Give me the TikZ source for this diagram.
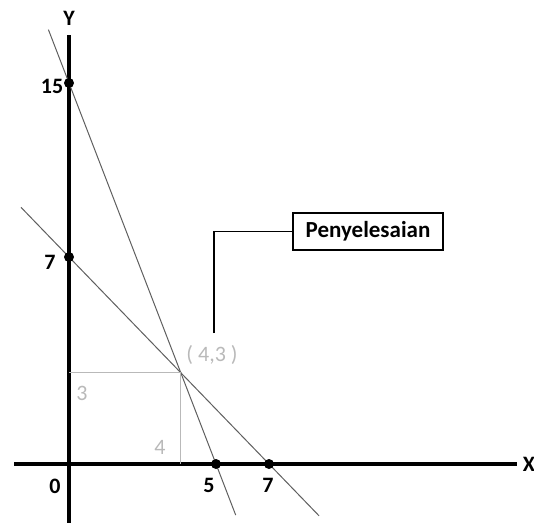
\documentclass[tikz,border=0pt]{standalone}
\usepackage{fontspec}
\setmainfont{Carlito}
\usepackage{tikz}
\usetikzlibrary{calc,positioning}
\definecolor{linegray}{RGB}{95,95,95}
\definecolor{helpgray}{RGB}{185,185,185}
\tikzset{%
	axis/.style    = {line width=4pt, black},
	graph/.style   = {line width=1pt, linegray},
	helper/.style  = {line width=1pt, helpgray},
	dot/.style     = {circle, fill=black, inner sep=0pt, minimum size=10pt},
	lbl/.style     = {font=\fontsize{22}{26}\selectfont\bfseries, inner sep=1pt},
	glbl/.style    = {font=\fontsize{22}{26}\selectfont, text=helpgray, inner sep=1pt},
	callout/.style = {draw, line width=1.3pt, font=\fontsize{23}{27}\selectfont\bfseries, minimum width=150pt, minimum height=37pt, inner sep=2pt},
}

\begin{document}
\begin{tikzpicture}[x=1pt,y=-1pt]
	\useasboundingbox (0,0) rectangle (534,523);
	% points on the axes
	\coordinate (O) at (69,464);
	\coordinate (Y15) at (69,83);
	\coordinate (Y7) at (69,257);
	\coordinate (X5) at (216,464);
	\coordinate (X7) at (269,464);
	\coordinate (P) at (180,372);
	
	\draw[axis] (14,464) -- (517,464);  % x Axis
	\draw[axis] (69,35) -- (69,523);  % y Axis
	\node[lbl] (ylab) at (69,18) {Y};
	\node[lbl] (xlab) at (529,464) {X};
	
	% the two lines
	\draw[graph] ($(Y15)!-0.14!(X5)$) -- ($(X5)!-0.134!(Y15)$);
	\draw[graph] ($(Y7)!-0.24!(X7)$) -- ($(X7)!-0.25!(Y7)$);
	
	% helper lines to the solution
	\draw[helper] (P) -- (P -| O);
	\draw[helper] (P) -- (P |- O);
	
	\node[dot] (d15) at (Y15) {};
	\node[dot] (d7y) at (Y7) {};
	\node[dot] (d5) at (X5) {};
	\node[dot] (d7x) at (X7) {};
	
	\node[lbl] (l15) at (52,86) {15};
	\node[lbl] (l7y) at (50,262) {7};
	\node[lbl] (l0) at (55,486) {0};
	\node[lbl] (l5) at (209,485) {5};
	\node[lbl] (l7x) at (268,485) {7};
	
	\node[glbl] (l3) at (82,393) {3};
	\node[glbl] (l4) at (160,447) {4};
	\node[glbl] (lp) at (212,355) {( 4,3 )};
	
	\node[callout] (sol) at (368,231.5) {Penyelesaian};
	\coordinate (tip) at (214,333);
	\draw[line width=1.3pt] (tip) |- (sol.west);
\end{tikzpicture}
\end{document}
